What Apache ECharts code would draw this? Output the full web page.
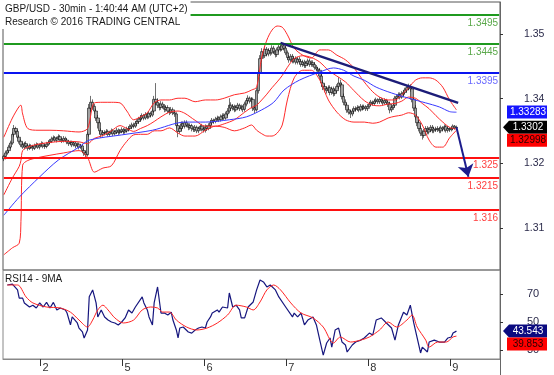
<!DOCTYPE html>
<html><head><meta charset="utf-8">
<script src="https://cdn.jsdelivr.net/npm/echarts@6/dist/echarts.min.js"></script>
<style>html,body{margin:0;padding:0;background:#fff}#c{width:554px;height:375px}</style>
</head><body><div id="c"></div>
<script>
// ---- data (prices in pips above 1.3000) ----
const BASE = 1.3;
const SLOTS = 291;
const open = [248,252,258,262,268,275,290,300,295,285,278,272,268,274,270,266,270,268,266,270,272,268,271,274,270,269,273,276,278,282,284,280,283,286,281,279,283,280,277,274,276,272,275,270,273,268,270,262,258,255,290,335,345,338,330,318,310,296,290,293,292,295,290,293,296,291,294,297,293,295,298,294,296,299,300,303,306,304,309,312,316,318,322,318,324,320,326,323,330,350,345,340,336,342,338,333,336,330,328,332,327,325,305,295,300,308,304,310,306,302,305,300,298,302,296,300,304,299,297,303,300,305,310,314,312,316,318,315,320,322,318,325,330,340,335,338,332,336,340,334,337,333,342,348,352,347,350,335,332,365,395,420,432,425,436,428,434,430,438,432,427,435,440,436,442,438,430,422,418,424,416,420,414,419,415,410,414,408,412,416,410,413,410,405,402,400,390,378,372,368,365,370,362,368,360,365,372,378,375,355,345,340,332,328,325,330,334,333,336,332,338,335,337,334,338,342,345,343,347,349,346,350,347,344,348,345,342,332,336,340,352,355,358,354,360,362,366,370,372,368,350,335,320,310,300,292,288,295,300,294,298,302,296,299,298,300,296,301,299,303,297,300,298,300,304,301];
const close = [252,258,262,268,275,290,300,295,285,278,272,268,274,270,266,270,268,266,270,272,268,271,274,270,269,273,276,278,282,284,280,283,286,281,279,283,280,277,274,276,272,275,270,273,268,270,262,258,255,290,335,345,338,330,318,310,296,290,293,292,295,290,293,296,291,294,297,293,295,298,294,296,299,300,303,306,304,309,312,316,318,322,318,324,320,326,323,330,350,345,340,336,342,338,333,336,330,328,332,327,325,305,295,300,308,304,310,306,302,305,300,298,302,296,300,304,299,297,303,300,305,310,314,312,316,318,315,320,322,318,325,330,340,335,338,332,336,340,334,337,333,342,348,352,347,350,335,332,365,395,420,432,425,436,428,434,430,438,432,427,435,440,436,442,438,430,422,418,424,416,420,414,419,415,410,414,408,412,416,410,413,410,405,402,400,390,378,372,368,365,370,362,368,360,365,372,378,375,355,345,340,332,328,325,330,334,333,336,332,338,335,337,334,338,342,345,343,347,349,346,350,347,344,348,345,342,332,336,340,352,355,358,354,360,362,366,370,372,368,350,335,320,310,300,292,288,295,300,294,298,302,296,299,298,300,296,301,299,303,297,300,298,300,304,301,302];
const low = [244,247,255,258,265,272,286,292,282,274,268,265,264,267,262,263,265,262,263,267,265,264,268,266,265,266,270,273,275,279,277,276,280,278,275,276,277,273,270,271,268,269,266,267,264,265,258,253,249,252,286,328,332,325,313,300,290,284,286,288,289,286,287,290,287,288,291,289,290,292,290,291,293,295,297,299,300,301,305,308,312,314,314,315,316,317,319,320,327,340,335,331,332,334,328,329,326,323,325,323,320,300,285,291,296,300,300,302,297,298,295,294,294,292,292,296,295,293,293,296,297,301,306,308,309,312,311,312,316,314,315,321,326,330,331,328,329,333,330,331,328,329,338,344,343,343,330,326,329,360,390,415,420,421,424,424,425,427,428,422,423,431,432,433,434,426,418,413,414,412,412,410,410,411,406,406,404,404,408,406,406,406,401,398,395,385,372,366,362,360,361,357,358,355,356,361,368,370,350,340,335,327,324,318,321,326,329,330,328,329,331,332,330,330,334,339,339,340,344,342,342,343,340,341,341,337,326,328,332,336,348,351,350,351,356,358,362,366,363,345,330,315,304,295,287,281,284,291,290,290,294,292,292,294,294,292,292,295,295,293,293,294,295,297,298,298];
const high = [255,262,265,272,279,294,306,303,298,289,281,276,277,278,273,274,273,272,274,276,275,274,278,277,273,277,280,282,286,288,287,286,290,289,284,287,286,283,280,279,279,278,278,276,276,273,274,266,261,294,342,356,350,342,334,323,314,300,297,297,299,298,296,300,299,297,301,300,299,302,301,300,303,304,307,310,310,313,316,320,323,326,325,328,327,330,329,334,356,378,352,344,347,346,342,340,340,334,337,336,331,328,309,304,312,312,314,314,309,309,308,304,306,305,303,307,308,302,307,306,309,314,318,317,320,322,321,324,326,326,329,335,352,345,342,341,340,344,343,341,340,346,352,357,355,354,353,339,370,400,426,438,436,442,440,438,437,443,442,435,439,444,445,447,446,441,434,426,428,428,424,424,423,423,419,418,418,416,420,420,417,417,414,409,406,404,394,383,376,372,374,374,372,372,369,376,388,384,379,360,350,344,336,332,334,338,338,340,339,342,341,341,340,342,346,349,348,351,353,352,354,353,350,352,351,348,346,339,344,356,359,362,362,364,366,370,374,377,376,372,354,340,324,314,305,297,299,304,304,302,306,306,303,303,304,303,305,304,307,306,304,302,303,307,306,305];

// Bollinger bands (sampled, pips)
const bbIdx   = [0,5,9,10,11,14,20,27,35,44,49,53,58,63,68,72,76,80,84,88,92,97,102,106,112,118,124,129,135,141,145,148,151,154,157,160,163,166,170,175,180,185,190,195,200,205,211,216,220,225,229,233,237,241,245,249,253,257,261,265];
const bbUpper = [285,318,338,340,325,300,297,297,296,294,300,344,345,345,344,330,315,320,327,344,349,349,352,352,346,349,349,352,358,361,366,371,423,452,469,476,474,461,438,426,421,435,435,426,418,404,380,363,354,349,349,358,370,383,387,387,383,371,349,332];
const bbMid   = [186,215,235,245,262,268,273,276,278,277,274,283,288,296,305,300,295,300,305,312,320,328,330,326,314,304,304,308,315,328,336,340,349,359,370,380,391,405,420,425,422,414,400,390,380,365,348,340,339,342,343,347,354,352,343,334,322,311,302,299];
const bbLower = [83,95,103,140,237,245,250,254,258,262,250,225,232,236,262,278,289,290,290,296,296,301,292,287,287,297,304,302,296,301,306,297,291,287,287,292,306,349,387,400,400,383,349,328,315,311,311,309,311,318,321,323,327,323,306,280,268,268,284,297];
// blue moving average (sampled, pips)
const maIdx = [0,9,21,32,44,50,69,87,106,118,132,142,151,158,164,173,185,193,199,205,211,218,227,237,247,255,261,265];
const maVal = [151,182,217,246,268,280,289,297,311,311,315,320,332,345,366,383,397,404,400,390,383,371,361,352,344,337,329,328];
// RSI 14 and its 9MA (sampled)
const rsiIdx = [2,5,8,9,11,12,15,17,19,21,23,25,27,29,31,33,36,37,39,40,43,44,46,47,49,50,52,53,54,55,57,59,61,63,65,67,69,71,73,75,77,78,81,82,84,85,87,88,90,91,92,94,96,98,99,101,102,103,105,106,108,110,112,114,116,118,119,121,122,125,126,128,131,132,134,136,138,139,141,143,146,148,150,152,154,156,159,161,162,165,166,169,170,172,174,176,178,181,183,185,187,189,191,192,194,196,198,200,201,204,206,209,211,214,216,218,221,224,227,229,231,234,236,238,240,242,244,245,248,249,252,255,258,260,262,263,265];
const rsiVal = [76.4,77,72.9,67,67,63.6,60.7,62,60,63.6,60.7,64,60,64,58.6,60,58.6,56.4,47.9,53.6,49.3,45.7,42.9,38.6,44.3,68,72.9,72.9,63.6,53.6,58.6,53.6,51.4,50,49.3,47.9,50,52.9,58.6,56.4,60.7,62,67.9,63.6,58.6,53.6,47.9,63.6,75,65.7,56.4,56.4,55,57,51.4,44.3,38.6,45.7,46.4,45.7,42.9,42.1,44.3,45.7,46.4,45.7,50,53.6,56.4,58.6,57,60.7,60,70.7,60.7,62,58.6,52.9,52.9,60.7,64.3,72.9,80,78.6,75,76.4,72.9,67.9,67.1,60.7,60.7,53.6,56.4,53.6,56.4,47.9,51.4,53.6,47.9,37.1,26.4,35,38.6,32.1,44.3,45.7,35.7,33.6,28.6,33.6,35.7,37.1,38.6,42.1,40.7,51.4,52.9,49.3,45.7,37.1,47.9,57,55,62,49.3,38.6,27.9,32.1,28.6,35.7,37.1,35.7,35.7,38.6,39.3,42.1,43.5];
const rsiMaIdx = [2,8,13,17,25,33,39,44,49,52,55,58,61,65,70,76,81,86,90,93,97,101,107,113,119,125,131,136,142,146,150,154,158,162,168,174,181,187,193,197,203,209,214,220,225,230,236,239,242,247,249,254,259,263,265];
const rsiMaVal = [76.4,76.4,67.9,63.6,60.7,60,57,51.4,46.4,51.4,58.6,62,58.6,52.9,49.3,51.4,58.6,60.7,60,57.1,57.1,51.4,46.4,44.3,45.7,49.3,55,62,60.7,58.6,64.3,72.9,76.4,72.9,63.6,56.4,52.9,46.4,35,39.3,35.7,37.1,39.3,44.3,50,46.4,51.4,55,46.4,37.1,32.1,35.7,35.7,39.3,39.9];

// horizontal levels, trendline, projection arrow
const levelValues = [1.3495, 1.3445, 1.3395, 1.325, 1.3215, 1.316];
const levelLabels = ['1.3495', '1.3445', '1.3395', '1.325', '1.3215', '1.316'];
const trendIdx = [162, 266];
const trendVal = [1.3447, 1.3344];
const arrowIdx = [265, 272];
const arrowVal = [1.3302, 1.3217];
// axis tick labels
const priceTickLabels = ['1.31', '1.32', '1.34', '1.35'];
const rsiTicks = [30, 50, 70];
const dayLabels = ['2', '5', '6', '7', '8', '9'];
const dayStart = [22, 70, 118, 166, 214, 262];
const titleLines = ['GBP/USD - 30min - 1:40:44 AM (UTC+2)', 'Research \u00a9 2016 TRADING CENTRAL'];
const rsiTitle = 'RSI14 - 9MA';
// price tags on the right
const priceTags = [{v: 1.33283, text: '1.33283'}, {v: 1.3302, text: '1.3302'}, {v: 1.32998, text: '1.32998'}];
const rsiTags = [{v: 43.543, text: '43.543'}, {v: 39.853, text: '39.853'}];

// ---- styles ----
const levelColors = ['#1f9a1f', '#1f9a1f', '#0a14f0', '#ff1010', '#ff1010', '#ff1010'];
const levelTextColors = ['#5aa84a', '#5aa84a', '#6a6aff', '#ff4040', '#ff4040', '#ff4040'];
const FONT = 'Liberation Sans, Arial, sans-serif';

const toPrice = p => +(BASE + p / 10000).toFixed(5);
const categories = Array.from({length: SLOTS}, (_, i) => String(i));
const candleData = open.map((o, i) => [toPrice(o), toPrice(close[i]), toPrice(low[i]), toPrice(high[i])]);
const pairs = (idx, vals, f) => idx.map((x, k) => [x, f ? f(vals[k]) : vals[k]]);

const levelLines = levelValues.map((v, k) => [
  {coord: ['0', v], lineStyle: {color: levelColors[k], width: 2, type: 'solid'},
   label: {show: true, position: 'insideEndBottom', formatter: levelLabels[k], color: levelTextColors[k], fontSize: 10, fontFamily: FONT, distance: [1, 3]}},
  {coord: [String(SLOTS - 1), v]}
]);
const trendLine = [
  {coord: [String(trendIdx[0]), trendVal[0]], lineStyle: {color: '#1c1c78', width: 2.5, type: 'solid'}, label: {show: false}},
  {coord: [String(trendIdx[1]), trendVal[1]]}
];
const arrowLine = [
  {coord: [String(arrowIdx[0]), arrowVal[0]], lineStyle: {color: '#1c1c8c', width: 2, type: 'solid'}, label: {show: false}},
  {coord: [String(arrowIdx[1]), arrowVal[1]], symbol: 'arrow', symbolSize: 12}
];

const titleStyle = {fontSize: 10, fontWeight: 'normal', color: '#1a1a1a', lineHeight: 12, fontFamily: FONT};
const chart = echarts.init(document.getElementById('c'), null, {renderer: 'canvas'});
const option = {
  animation: false,
  backgroundColor: '#fff',
  textStyle: {fontFamily: FONT},
  title: [
    {text: titleLines[0], left: 2, top: 1, padding: [2, 3, 1, 3], backgroundColor: '#fff', z: 10, textStyle: titleStyle},
    {text: titleLines[1], left: 2, top: 15, padding: [1, 3, 1, 3], backgroundColor: '#fff', z: 10, textStyle: titleStyle},
    {text: rsiTitle, left: 2, top: 272, padding: [1, 3], z: 10, textStyle: titleStyle}
  ],
  grid: [
    {left: 3, right: 54, top: 2, height: 268, show: true, borderColor: '#555', borderWidth: 1},
    {left: 3, right: 54, top: 270, height: 89, show: true, borderColor: '#888', borderWidth: 1}
  ],
  xAxis: [
    {type: 'category', gridIndex: 0, data: categories, boundaryGap: true, show: false},
    {type: 'category', gridIndex: 1, data: categories, boundaryGap: true,
     axisLine: {show: true, lineStyle: {color: '#888'}},
     axisTick: {show: true, interval: (i) => dayStart.includes(i), length: 7, lineStyle: {color: '#333'}},
     axisLabel: {show: true, interval: (i) => dayStart.includes(i), formatter: (v, i) => dayLabels[dayStart.indexOf(i)],
                 align: 'left', margin: 3, fontSize: 11, color: '#333', padding: [0, 0, 0, 1]},
     splitLine: {show: false}}
  ],
  yAxis: [
    {type: 'value', gridIndex: 0, position: 'right', min: 1.30569, max: 1.35173,
     axisLine: {show: true, lineStyle: {color: '#666'}}, axisTick: {show: false}, axisLabel: {show: false}, splitLine: {show: false}},
    {type: 'value', gridIndex: 0, position: 'right', min: -0.648, max: 3.494,
     axisLine: {show: false},
     axisTick: {show: true, customValues: [0, 1, 2, 3], length: 3, lineStyle: {color: '#333'}},
     axisLabel: {show: true, customValues: [0, 1, 2, 3], formatter: (v) => priceTickLabels[v], margin: 24, fontSize: 10.5, color: '#2b2b4b'},
     splitLine: {show: false}},
    {type: 'value', gridIndex: 1, position: 'right', min: 23.6, max: 87.1,
     axisLine: {show: true, lineStyle: {color: '#666'}},
     axisTick: {show: true, customValues: rsiTicks, length: 3, lineStyle: {color: '#333'}},
     axisLabel: {show: true, customValues: rsiTicks, margin: 27, fontSize: 11, color: '#2b2b4b'},
     splitLine: {show: false}}
  ],
  series: [
    {type: 'candlestick', xAxisIndex: 0, yAxisIndex: 0, data: candleData, barWidth: 3,
     itemStyle: {color: '#a2a2a2', color0: '#a2a2a2', borderColor: '#111', borderColor0: '#111', borderWidth: 0.6},
     markLine: {silent: true, symbol: ['none', 'none'], animation: false, data: levelLines.concat([trendLine, arrowLine])}},
    {type: 'line', xAxisIndex: 0, yAxisIndex: 0, data: pairs(bbIdx, bbUpper, toPrice), showSymbol: false, smooth: 0.3,
     lineStyle: {color: '#ff2a2a', width: 1}},
    {type: 'line', xAxisIndex: 0, yAxisIndex: 0, data: pairs(bbIdx, bbMid, toPrice), showSymbol: false, smooth: 0.3,
     lineStyle: {color: '#ff2a2a', width: 1}},
    {type: 'line', xAxisIndex: 0, yAxisIndex: 0, data: pairs(bbIdx, bbLower, toPrice), showSymbol: false, smooth: 0.3,
     lineStyle: {color: '#ff2a2a', width: 1}},
    {type: 'line', xAxisIndex: 0, yAxisIndex: 0, data: pairs(maIdx, maVal, toPrice), showSymbol: false, smooth: 0.3,
     lineStyle: {color: '#3838ff', width: 1}},
    {type: 'line', xAxisIndex: 1, yAxisIndex: 2, data: pairs(rsiIdx, rsiVal), showSymbol: false,
     lineStyle: {color: '#16167e', width: 1.2}},
    {type: 'line', xAxisIndex: 1, yAxisIndex: 2, data: pairs(rsiMaIdx, rsiMaVal), showSymbol: false, smooth: 0.3,
     lineStyle: {color: '#ff2424', width: 1}}
  ]
};
chart.setOption(option);

// ---- right-hand value tags (placed from the axes' scales, stacked to avoid overlap) ----
const tagStyles = [
  {fill: '#1414ff', text: '#ffffff', arrow: false},
  {fill: '#000000', text: '#ffffff', arrow: true},
  {fill: '#ff0000', text: '#2a0000', arrow: false}
];
const rsiTagStyles = [
  {fill: '#0a0a80', text: '#ffffff', arrow: true},
  {fill: '#ff0000', text: '#2a0000', arrow: false}
];
const AX = 500, X1 = 547, H = 13;
const graphics = [];
function placeTags(tags, styles, axisIndex) {
  let prev = -1e9;
  tags.forEach((t, k) => {
    let y = chart.convertToPixel({yAxisIndex: axisIndex}, t.v);
    y = Math.max(y, prev + H);
    prev = y;
    const s = styles[k];
    if (s.arrow) {
      graphics.push({type: 'polygon', z: 100, shape: {points: [[AX + 3, y], [AX + 9, y - H / 2], [X1, y - H / 2], [X1, y + H / 2], [AX + 9, y + H / 2]]}, style: {fill: s.fill}});
    } else {
      graphics.push({type: 'rect', z: 100, shape: {x: AX + 7, y: y - H / 2, width: X1 - AX - 7, height: H}, style: {fill: s.fill}});
    }
    graphics.push({type: 'text', z: 101, x: (AX + 9 + X1) / 2, y: y,
      style: {text: t.text, fill: s.text, font: '10px ' + FONT, align: 'center', verticalAlign: 'middle', textAlign: 'center', textVerticalAlign: 'middle'}});
  });
}
placeTags(priceTags, tagStyles, 0);
placeTags(rsiTags, rsiTagStyles, 2);
graphics.push({type: 'line', z: 50, shape: {x1: AX + 0.5, y1: 359, x2: AX + 0.5, y2: 375}, style: {stroke: '#666', lineWidth: 1}});
chart.setOption({graphic: graphics});
</script>
</body></html>
